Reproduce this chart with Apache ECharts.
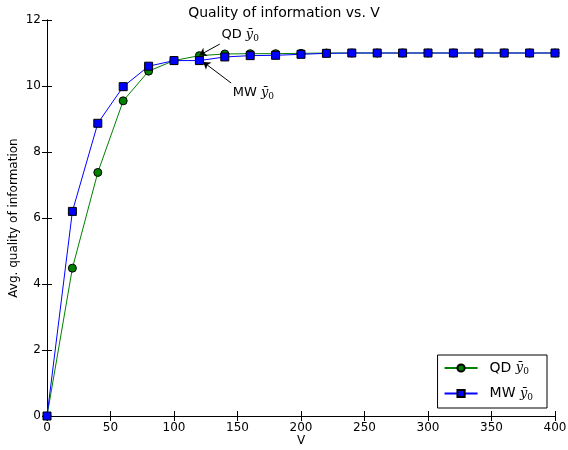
<!DOCTYPE html>
<html lang="en">
<head>
    <meta charset="UTF-8">
    <title>Quality of information vs. V</title>
    <script src="https://cdn.jsdelivr.net/npm/echarts@6/dist/echarts.min.js"></script>
    <style>
        * { margin: 0; padding: 0; }
        body { background-color: #fff; }
        #box { width: 568px; height: 450px; }
    </style>
</head>
<body>
    <div id="box"></div>
    <script>
        // x positions (V) and the two series
        var vValues = [0, 20, 40, 60, 80, 100, 120, 140, 160, 180, 200, 220, 240, 260, 280, 300, 320, 340, 360, 380, 400];
        var qdValues = [0, 4.48, 7.38, 9.55, 10.45, 10.77, 10.92, 10.97, 10.98, 10.98, 10.99, 11.0, 11.0, 11.0, 11.0, 11.0, 11.0, 11.0, 11.0, 11.0, 11.0];
        var mwValues = [0, 6.2, 8.87, 9.98, 10.6, 10.77, 10.77, 10.88, 10.92, 10.93, 10.96, 10.99, 11.0, 11.0, 11.0, 11.0, 11.0, 11.0, 11.0, 11.0, 11.0];

        // annotation arrows: [text anchor, point]
        var qdArrow = [[136, 11.27], [120, 10.93]];
        var mwArrow = [[145, 10.09], [123, 10.73]];

        function pairs(xs, ys) {
            var out = [];
            for (var i = 0; i < xs.length; i++) out.push([xs[i], ys[i]]);
            return out;
        }

        var font = 'DejaVu Sans';
        var axisCommon = {
            axisLine: { lineStyle: { color: '#000', width: 1 } },
            axisTick: { inside: true, length: 5, lineStyle: { color: '#000' } },
            splitLine: { show: false }
        };

        var rich = {
            i: { fontFamily: 'DejaVu Serif', fontStyle: 'italic', fontSize: 13, color: '#000' },
            s: { fontFamily: 'DejaVu Serif', fontSize: 9, color: '#000', padding: [8, 0, 0, 0] }
        };

        var chart = echarts.init(document.querySelector('#box'));
        var option = {
            animation: false,
            textStyle: { fontFamily: font },
            title: {
                text: 'Quality of information vs. V',
                left: 'center',
                top: 1,
                textStyle: { fontFamily: font, fontSize: 14, fontWeight: 'normal', color: '#000' }
            },
            grid: { left: 47, right: 13, top: 20, bottom: 34, containLabel: false, outerBoundsMode: 'none' },
            legend: {
                orient: 'vertical',
                right: 21,
                bottom: 42,
                padding: [6, 14, 6, 6],
                itemGap: 10,
                itemWidth: 33,
                itemHeight: 9,
                backgroundColor: '#fff',
                borderColor: '#000',
                borderWidth: 1,
                borderRadius: 0,
                textStyle: { fontFamily: font, fontSize: 14, color: '#000', rich: rich, padding: [0, 0, 0, 7] },
                formatter: function (name) {
                    return name + ' {i|ȳ}{s|0}';
                },
                data: ['QD', 'MW']
            },
            xAxis: [
                Object.assign({
                    type: 'value', min: 0, max: 400, interval: 50,
                    name: 'V', nameLocation: 'middle', nameGap: 19, nameMoveOverlap: false,
                    nameTextStyle: { fontFamily: font, fontSize: 12, color: '#000' },
                    axisLabel: { color: '#000', fontSize: 12, fontFamily: font, margin: 6 }
                }, axisCommon),
                Object.assign({
                    type: 'value', min: 0, max: 400, interval: 50, position: 'top',
                    axisLabel: { show: false }
                }, axisCommon)
            ],
            yAxis: [
                Object.assign({
                    type: 'value', min: 0, max: 12, interval: 2,
                    name: 'Avg. quality of information', nameLocation: 'middle', nameGap: 27, nameMoveOverlap: false,
                    nameTextStyle: { fontFamily: font, fontSize: 12, color: '#000' },
                    axisLabel: { color: '#000', fontSize: 12, fontFamily: font, margin: 6 }
                }, axisCommon),
                Object.assign({
                    type: 'value', min: 0, max: 12, interval: 2, position: 'right',
                    axisLabel: { show: false }
                }, axisCommon)
            ],
            series: [
                {
                    name: 'QD',
                    type: 'line',
                    data: pairs(vValues, qdValues),
                    symbol: 'circle',
                    symbolSize: 8,
                    lineStyle: { color: '#008000', width: 1 },
                    itemStyle: { color: '#008000', borderColor: '#000', borderWidth: 1 },
                    z: 2,
                    markLine: {
                        silent: true,
                        symbol: ['none', 'arrow'],
                        symbolSize: 7,
                        lineStyle: { color: '#000', width: 1, type: 'solid' },
                        label: {
                            show: true, position: 'start', distance: 2,
                            formatter: 'QD {i|ȳ}{s|0}',
                            fontFamily: font, fontSize: 13, color: '#000', rich: rich,
                            align: 'left', verticalAlign: 'bottom'
                        },
                        data: [[{ coord: qdArrow[0] }, { coord: qdArrow[1] }]]
                    }
                },
                {
                    name: 'MW',
                    type: 'line',
                    data: pairs(vValues, mwValues),
                    symbol: 'rect',
                    symbolSize: 8,
                    lineStyle: { color: '#0000ff', width: 1 },
                    itemStyle: { color: '#0000ff', borderColor: '#000', borderWidth: 1 },
                    z: 3,
                    markLine: {
                        silent: true,
                        symbol: ['none', 'arrow'],
                        symbolSize: 7,
                        lineStyle: { color: '#000', width: 1, type: 'solid' },
                        label: {
                            show: true, position: 'start', distance: 2,
                            formatter: 'MW {i|ȳ}{s|0}',
                            fontFamily: font, fontSize: 13, color: '#000', rich: rich,
                            align: 'left', verticalAlign: 'top'
                        },
                        data: [[{ coord: mwArrow[0] }, { coord: mwArrow[1] }]]
                    }
                }
            ]
        };
        chart.setOption(option);
    </script>
</body>
</html>
